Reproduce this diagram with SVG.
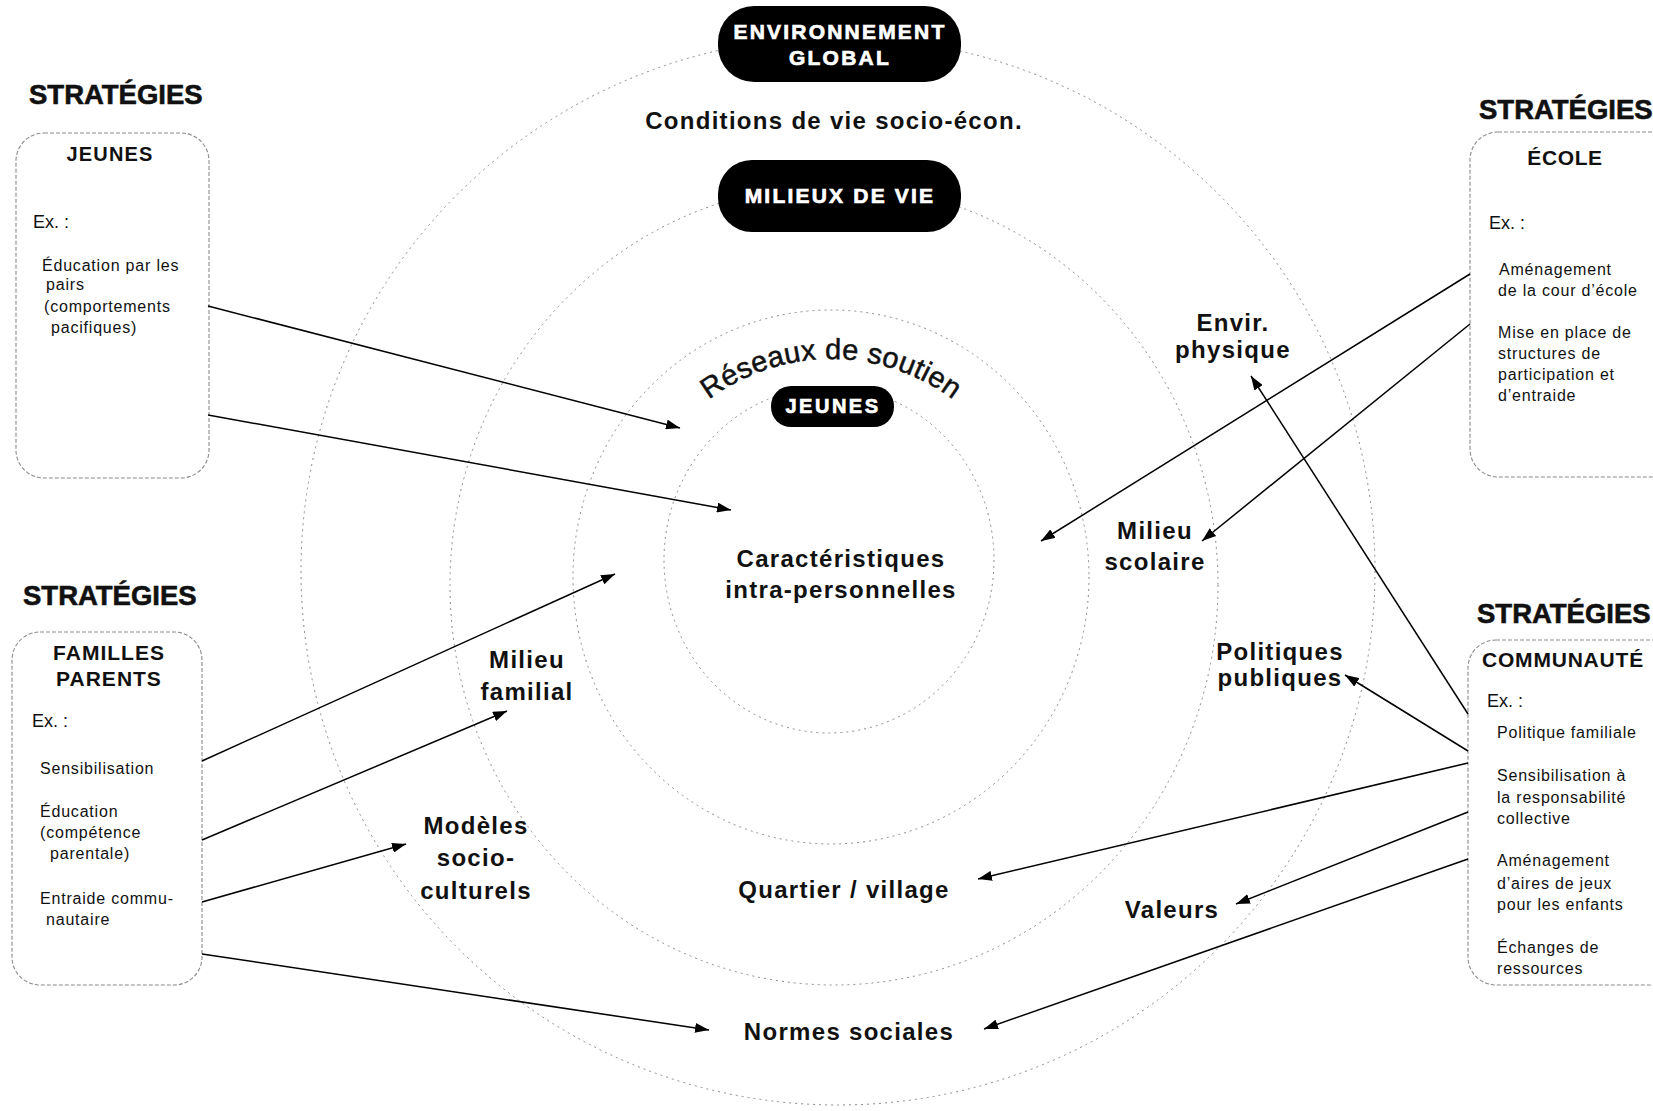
<svg xmlns="http://www.w3.org/2000/svg" width="1653" height="1111" viewBox="0 0 1653 1111">
<defs>
<marker id="ah" viewBox="0 0 14 10" refX="14" refY="5" markerWidth="14" markerHeight="10" orient="auto" markerUnits="userSpaceOnUse">
<path d="M0,0 L14,5 L0,10 z" fill="#000"/>
</marker>
<style>
text{font-family:"Liberation Sans",Arial,Helvetica,sans-serif;fill:#111}
.ring{fill:none;stroke:#8a8a8a;stroke-width:1;stroke-dasharray:2 4}
.box{fill:none;stroke:#8a8a8a;stroke-width:1.1;stroke-dasharray:4 2}
.dark{fill:#000}
.dt{font-weight:bold;fill:#fff;stroke:#fff;stroke-width:0.7;text-anchor:middle;font-size:21px;letter-spacing:2.2px}
.strat{font-weight:bold;font-size:27.5px;stroke:#111;stroke-width:0.6}
.bt{font-weight:bold;font-size:21px;letter-spacing:1px;text-anchor:middle}
.ex{font-size:18px}
.it{font-size:16px;letter-spacing:0.8px}
.lbl{font-weight:bold;font-size:24px;letter-spacing:1.3px;text-anchor:middle}
.arc{font-size:29px;letter-spacing:0.3px;stroke:#111;stroke-width:0.5}
.conn line{stroke:#000;stroke-width:1.5;marker-end:url(#ah)}
</style>
<path id="arcp" d="M 628,562 A 203,203 0 0 1 1034,562"/>
</defs>
<rect width="1653" height="1111" fill="#fff"/>

<g id="rings">
<ellipse class="ring" cx="838" cy="571" rx="537" ry="534"/>
<ellipse class="ring" cx="834" cy="585" rx="384" ry="400"/>
<ellipse class="ring" cx="831" cy="577" rx="258" ry="267"/>
<ellipse class="ring" cx="829" cy="560" rx="165" ry="173"/>
</g>

<g id="env-global">
<rect class="dark" x="718" y="6" width="243" height="76" rx="36"/>
<text class="dt" x="840" y="39">ENVIRONNEMENT</text>
<text class="dt" x="840" y="65">GLOBAL</text>
</g>
<g id="conditions"><text class="lbl" x="834" y="129">Conditions de vie socio-écon.</text></g>

<g id="milieux-de-vie">
<rect class="dark" x="718" y="160" width="243" height="72" rx="34"/>
<text class="dt" x="840" y="203">MILIEUX DE VIE</text>
</g>

<g id="reseaux">
<text class="arc"><textPath href="#arcp" startOffset="50%" text-anchor="middle">Réseaux de soutien</textPath></text>
</g>

<g id="jeunes-center">
<rect class="dark" x="771" y="386" width="123" height="41" rx="20"/>
<text class="dt" x="833" y="413" style="font-size:20px;letter-spacing:2.5px">JEUNES</text>
</g>

<g id="caracteristiques">
<text class="lbl" x="841" y="567">Caractéristiques</text>
<text class="lbl" x="841" y="598">intra-personnelles</text>
</g>
<g id="envir-physique">
<text class="lbl" x="1233" y="331">Envir.</text>
<text class="lbl" x="1233" y="358">physique</text>
</g>
<g id="milieu-scolaire">
<text class="lbl" x="1155" y="539">Milieu</text>
<text class="lbl" x="1155" y="570">scolaire</text>
</g>
<g id="politiques-publiques">
<text class="lbl" x="1280" y="660">Politiques</text>
<text class="lbl" x="1280" y="686">publiques</text>
</g>
<g id="milieu-familial">
<text class="lbl" x="527" y="668">Milieu</text>
<text class="lbl" x="527" y="700">familial</text>
</g>
<g id="modeles">
<text class="lbl" x="476" y="834">Modèles</text>
<text class="lbl" x="476" y="866">socio-</text>
<text class="lbl" x="476" y="899">culturels</text>
</g>
<g id="quartier"><text class="lbl" x="844" y="898">Quartier / village</text></g>
<g id="valeurs"><text class="lbl" x="1172" y="918">Valeurs</text></g>
<g id="normes"><text class="lbl" x="849" y="1040">Normes sociales</text></g>

<g id="strat-jeunes">
<text class="strat" x="29" y="104">STRATÉGIES</text>
<rect class="box" x="16" y="133" width="193" height="345" rx="28"/>
<text class="bt" x="110" y="161" style="font-size:20px;letter-spacing:1.2px">JEUNES</text>
<text class="ex" x="33" y="228">Ex. :</text>
<text class="it" x="42" y="271">Éducation par les</text>
<text class="it" x="46" y="290">pairs</text>
<text class="it" x="44" y="312">(comportements</text>
<text class="it" x="51" y="333">pacifiques)</text>
</g>

<g id="strat-familles">
<text class="strat" x="23" y="605">STRATÉGIES</text>
<rect class="box" x="12" y="632" width="190" height="353" rx="28"/>
<text class="bt" x="109" y="660">FAMILLES</text>
<text class="bt" x="109" y="686">PARENTS</text>
<text class="ex" x="32" y="727">Ex. :</text>
<text class="it" x="40" y="774">Sensibilisation</text>
<text class="it" x="40" y="817">Éducation</text>
<text class="it" x="40" y="838">(compétence</text>
<text class="it" x="50" y="859">parentale)</text>
<text class="it" x="40" y="904">Entraide commu-</text>
<text class="it" x="46" y="925">nautaire</text>
</g>

<g id="strat-ecole">
<text class="strat" x="1479" y="119">STRATÉGIES</text>
<rect class="box" x="1470" y="132" width="260" height="345" rx="28"/>
<text class="bt" x="1565" y="165" style="letter-spacing:0.6px">ÉCOLE</text>
<text class="ex" x="1489" y="229">Ex. :</text>
<text class="it" x="1499" y="275">Aménagement</text>
<text class="it" x="1498" y="296">de la cour d’école</text>
<text class="it" x="1498" y="338">Mise en place de</text>
<text class="it" x="1498" y="359">structures de</text>
<text class="it" x="1498" y="380">participation et</text>
<text class="it" x="1498" y="401">d’entraide</text>
</g>

<g id="strat-communaute">
<text class="strat" x="1477" y="623">STRATÉGIES</text>
<rect class="box" x="1468" y="640" width="260" height="345" rx="28"/>
<text class="bt" x="1563" y="667" style="letter-spacing:0.8px">COMMUNAUTÉ</text>
<text class="ex" x="1487" y="707">Ex. :</text>
<text class="it" x="1497" y="738">Politique familiale</text>
<text class="it" x="1497" y="781">Sensibilisation à</text>
<text class="it" x="1497" y="803">la responsabilité</text>
<text class="it" x="1497" y="824">collective</text>
<text class="it" x="1497" y="866">Aménagement</text>
<text class="it" x="1497" y="889">d’aires de jeux</text>
<text class="it" x="1497" y="910">pour les enfants</text>
<text class="it" x="1497" y="953">Échanges de</text>
<text class="it" x="1497" y="974">ressources</text>
</g>

<g id="connectors" class="conn">
<line x1="208" y1="306" x2="680" y2="428"/>
<line x1="208" y1="415" x2="731" y2="510"/>
<line x1="202" y1="761" x2="615" y2="574"/>
<line x1="202" y1="840" x2="507" y2="711"/>
<line x1="202" y1="902" x2="406" y2="844"/>
<line x1="202" y1="954" x2="709" y2="1030"/>
<line x1="1470" y1="274" x2="1041" y2="541"/>
<line x1="1470" y1="324" x2="1202" y2="541"/>
<line x1="1468" y1="714" x2="1251" y2="376"/>
<line x1="1468" y1="751" x2="1345" y2="675"/>
<line x1="1468" y1="763" x2="978" y2="879"/>
<line x1="1468" y1="812" x2="1236" y2="904"/>
<line x1="1468" y1="859" x2="984" y2="1029"/>
</g>
</svg>
